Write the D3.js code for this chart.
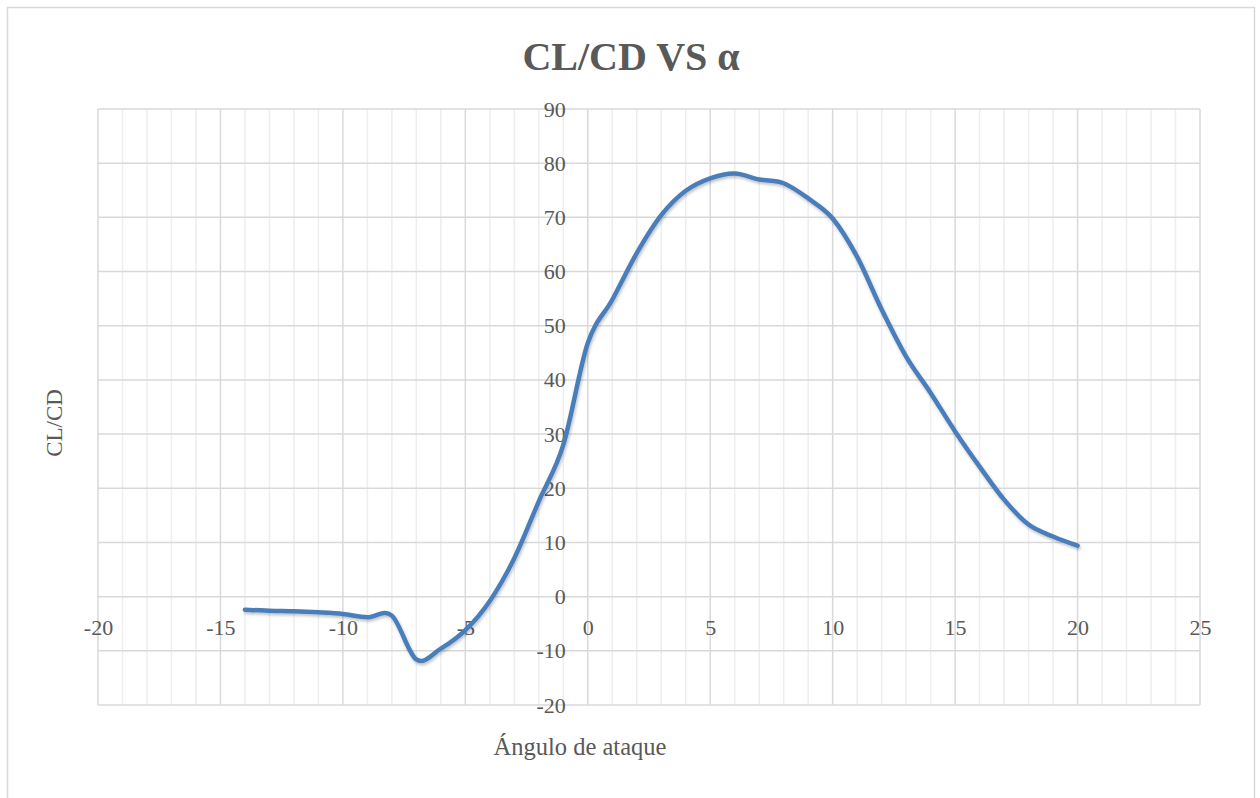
<!DOCTYPE html>
<html>
<head>
<meta charset="utf-8">
<script src="https://cdn.jsdelivr.net/npm/d3@7"></script>
<style>
  html, body { margin: 0; padding: 0; background: #ffffff; }
  svg { display: block; }
  text { font-family: "Liberation Serif", "DejaVu Serif", serif; fill: #595959; }
</style>
</head>
<body>
<svg id="chart" width="1260" height="798"></svg>
<script>
// ---- data ----
const angles = [-14,-13,-12,-11,-10,-9,-8,-7,-6,-5,-4,-3,-2,-1,0,1,2,3,4,5,6,7,8,9,10,11,12,13,14,15,16,17,18,19,20];
const clcd   = [-2.4,-2.6,-2.7,-2.9,-3.2,-3.8,-3.5,-11.6,-9.6,-6.2,-0.8,7.1,17.6,28,46.8,54.8,63.4,70.4,74.9,77.2,78.1,77.0,76.3,73.5,69.8,62.7,53,44.3,37.6,30.5,24,17.9,13.3,11.1,9.4];
const xTicks = [-20,-15,-10,-5,0,5,10,15,20,25];
const yTicks = [-20,-10,0,10,20,30,40,50,60,70,80,90];
const titleText = "CL/CD VS α";
const xTitle = "Ángulo de ataque";
const yTitle = "CL/CD";

// ---- layout ----
const svg = d3.select("#chart");
const plot = {left: 98, top: 109, right: 1200, bottom: 705};

const x = d3.scaleLinear().domain([-20, 25]).range([plot.left, plot.right]);
const y = d3.scaleLinear().domain([-20, 90]).range([plot.bottom, plot.top]);

// outer chart border
svg.append("rect")
  .attr("x", 7.5).attr("y", 7.5).attr("width", 1247).attr("height", 800)
  .attr("fill", "#fff").attr("stroke", "#d9d9d9").attr("stroke-width", 1.5);

// minor vertical gridlines (every 1)
const minorX = d3.range(-20, 26, 1).filter(v => v % 5 !== 0);
svg.append("g").selectAll("line").data(minorX).join("line")
  .attr("x1", d => x(d)).attr("x2", d => x(d))
  .attr("y1", plot.top).attr("y2", plot.bottom)
  .attr("stroke", "#eeeeee").attr("stroke-width", 1.5);

// major gridlines
svg.append("g").selectAll("line").data(xTicks).join("line")
  .attr("x1", d => x(d)).attr("x2", d => x(d))
  .attr("y1", plot.top).attr("y2", plot.bottom)
  .attr("stroke", "#d9d9d9").attr("stroke-width", 1.5);
svg.append("g").selectAll("line").data(yTicks).join("line")
  .attr("x1", plot.left).attr("x2", plot.right)
  .attr("y1", d => y(d)).attr("y2", d => y(d))
  .attr("stroke", "#d9d9d9").attr("stroke-width", 1.5);

// axes labels (plain hyphen minus)
const fmt = d => String(d);
const xAxis = d3.axisBottom(x).tickValues(xTicks).tickSize(0).tickPadding(23).tickFormat(fmt);
const gx = svg.append("g").attr("transform", `translate(0,${y(0)})`).call(xAxis);
gx.select(".domain").remove();
gx.selectAll("text").attr("font-size", 22).attr("fill", "#595959")
  .style("font-family", "'Liberation Serif', serif");

const yAxis = d3.axisLeft(y).tickValues(yTicks).tickSize(0).tickPadding(22).tickFormat(fmt);
const gy = svg.append("g").attr("transform", `translate(${x(0)},0)`).call(yAxis);
gy.select(".domain").remove();
gy.selectAll("text").attr("font-size", 22).attr("fill", "#595959")
  .style("font-family", "'Liberation Serif', serif");

// shadow filter
const defs = svg.append("defs");
const f = defs.append("filter").attr("id", "shadow").attr("x", "-5%").attr("y", "-5%").attr("width", "110%").attr("height", "120%");
f.append("feDropShadow").attr("dx", 1).attr("dy", 2).attr("stdDeviation", 1.5)
  .attr("flood-color", "#000").attr("flood-opacity", 0.25);

// series line
const pts = angles.map((a, i) => [a, clcd[i]]);
const line = d3.line().x(d => x(d[0])).y(d => y(d[1])).curve(d3.curveCardinal.tension(0));
svg.append("path").datum(pts)
  .attr("d", line)
  .attr("fill", "none")
  .attr("stroke", "#4a7ebb")
  .attr("stroke-width", 4.5)
  .attr("stroke-linecap", "round")
  .attr("stroke-linejoin", "round")
  .attr("filter", "url(#shadow)");

// title
svg.append("text").attr("x", 631).attr("y", 70).attr("text-anchor", "middle")
  .attr("font-size", 40).attr("font-weight", "bold").attr("fill", "#595959")
  .text(titleText);

// axis titles
svg.append("text").attr("x", 580).attr("y", 755).attr("text-anchor", "middle")
  .attr("font-size", 24.5).attr("fill", "#595959").text(xTitle);
svg.append("text").attr("transform", "translate(62,423) rotate(-90)").attr("text-anchor", "middle")
  .attr("font-size", 23).attr("fill", "#595959").text(yTitle);
</script>
</body>
</html>
